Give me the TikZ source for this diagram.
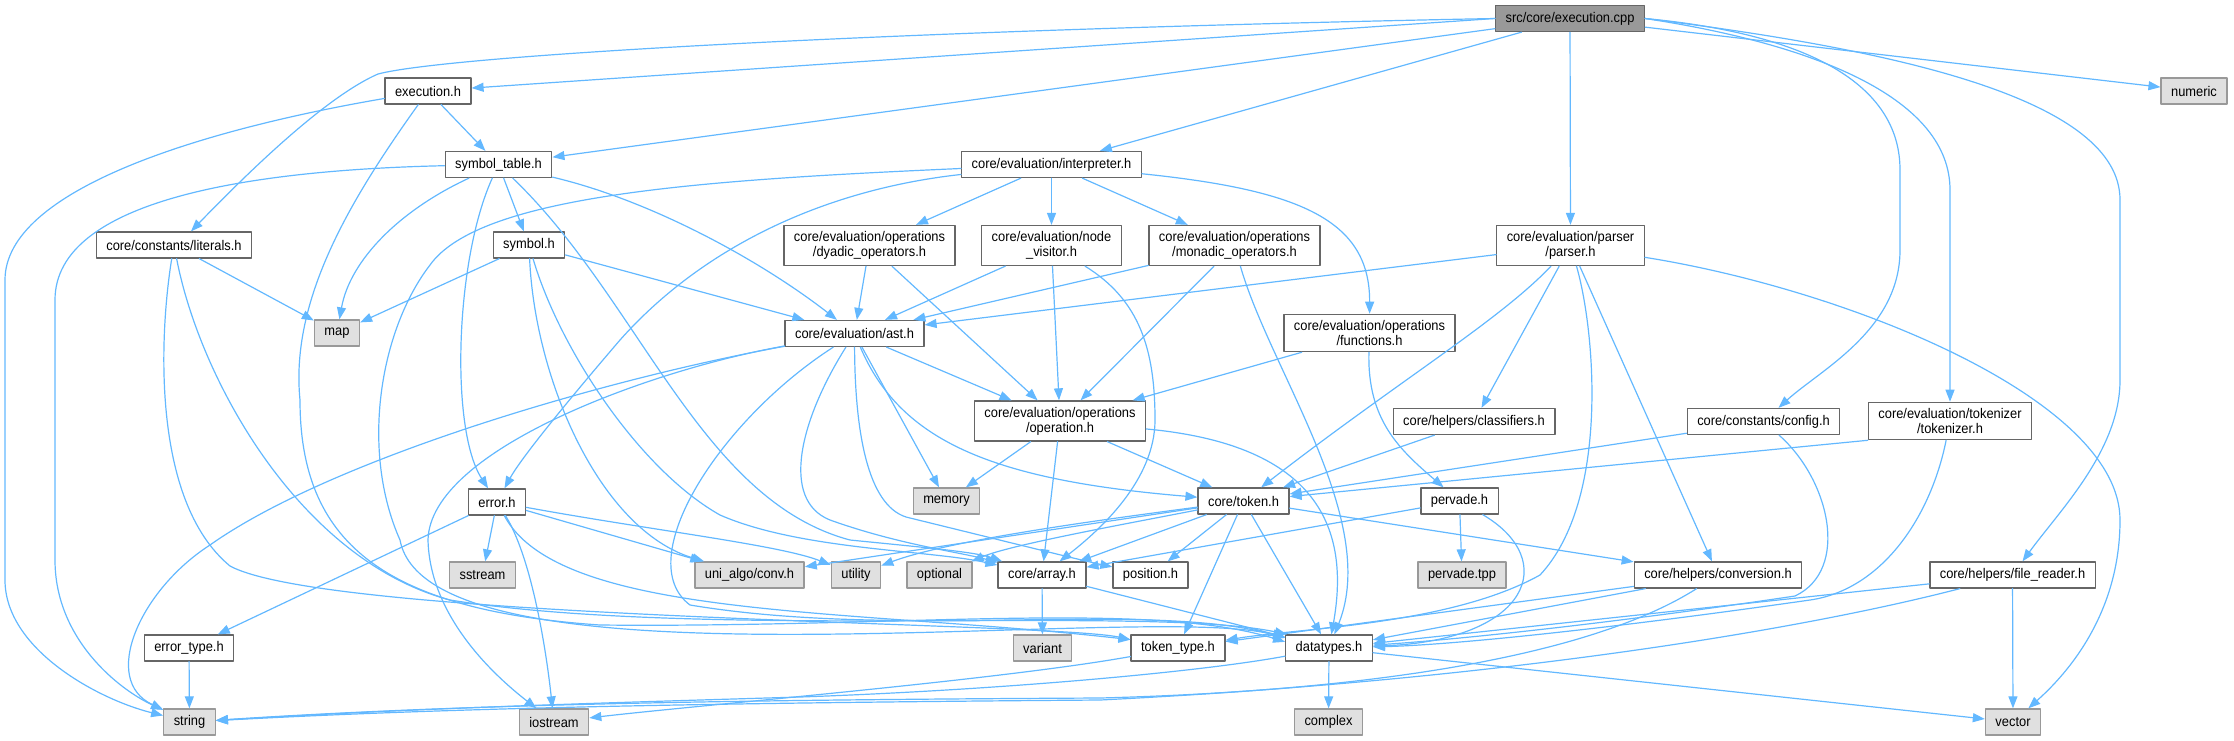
\documentclass[tikz,border=0pt]{standalone}
\usepackage{fontspec}
\setmainfont{Liberation Sans}[FakeStretch=0.92]
\usepackage{xcolor}
\usepackage{tikz}
\usetikzlibrary{arrows.meta}

\begin{document}
\begin{tikzpicture}[
    >=Latex,
    line cap=round,
    line join=round,
    font=\fontsize{14}{15}\selectfont,
    x=1pt,
    y=-1pt
]

% =========================================================
% Colors
% =========================================================
\definecolor{edgeblue}{RGB}{99,184,255}
\definecolor{boxline}{RGB}{102,102,102}
\definecolor{sysline}{RGB}{153,153,153}
\definecolor{sysfill}{RGB}{224,224,224}
\definecolor{mainfill}{RGB}{153,153,153}

% =========================================================
% Styles
% =========================================================
\tikzset{
    hdr/.style={draw=boxline,fill=white,line width=1.3pt,minimum height=26pt,
        inner xsep=10pt,inner ysep=6pt,align=center},
    sys/.style={hdr,draw=sysline,fill=sysfill},
    mainhdr/.style={hdr,fill=mainfill},
    inc/.style={edgeblue,line width=1.2pt,-{Triangle[length=12pt,width=9pt]}}
}

\useasboundingbox (0,0) rectangle (2234,740);

% =========================================================
% Files, rank by rank
% =========================================================
\node[mainhdr] (ecpp) at (1570,18.5) {src/core/execution.cpp};

\node[hdr] (exech) at (428,91) {execution.h};
\node[sys] (numeric) at (2194,91) {numeric};

\node[hdr] (symtab) at (498.5,164.5) {symbol\_table.h};
\node[hdr] (interp) at (1051.5,164.5) {core/evaluation/interpreter.h};

\node[hdr] (literals) at (174,245) {core/constants/literals.h};
\node[hdr] (symbol) at (529,245) {symbol.h};
\node[hdr] (dyadic) at (869.5,245.5) {core/evaluation/operations\\/dyadic\_operators.h};
\node[hdr] (nodevis) at (1051.5,245.5) {core/evaluation/node\\\_visitor.h};
\node[hdr] (monadic) at (1234.5,245.5) {core/evaluation/operations\\/monadic\_operators.h};
\node[hdr] (parser) at (1570.5,245.5) {core/evaluation/parser\\/parser.h};

\node[sys] (map) at (337,333) {map};
\node[hdr] (ast) at (854.5,333.5) {core/evaluation/ast.h};
\node[hdr] (functions) at (1369.5,333) {core/evaluation/operations\\/functions.h};

\node[hdr] (operation) at (1060,421) {core/evaluation/operations\\/operation.h};
\node[hdr] (classif) at (1474,421.5) {core/helpers/classifiers.h};
\node[hdr] (config) at (1763.5,421.5) {core/constants/config.h};
\node[hdr] (tokenizer) at (1950,421) {core/evaluation/tokenizer\\/tokenizer.h};

\node[hdr] (errorh) at (497,502) {error.h};
\node[sys] (memory) at (946.5,501) {memory};
\node[hdr] (token) at (1243.5,501) {core/token.h};
\node[hdr] (pervade) at (1459.5,501) {pervade.h};

\node[sys] (sstream) at (482.5,575) {sstream};
\node[sys] (unialgo) at (749.5,575) {uni\_algo/conv.h};
\node[sys] (utility) at (856,575) {utility};
\node[sys] (optional) at (939.5,575) {optional};
\node[hdr] (array) at (1042,575) {core/array.h};
\node[hdr] (position) at (1150.5,575) {position.h};
\node[sys] (pervtpp) at (1462,575) {pervade.tpp};
\node[hdr] (conversion) at (1718,575) {core/helpers/conversion.h};
\node[hdr] (filereader) at (2012.5,575) {core/helpers/file\_reader.h};

\node[hdr] (errtype) at (189,648) {error\_type.h};
\node[sys] (variant) at (1042.5,648) {variant};
\node[hdr] (toktype) at (1178,648) {token\_type.h};
\node[hdr] (datatypes) at (1329,648) {datatypes.h};

\node[sys] (string) at (189.5,722) {string};
\node[sys] (iostream) at (554,722) {iostream};
\node[sys] (complex) at (1328.5,722) {complex};
\node[sys] (vector) at (2013,722) {vector};

% =========================================================
% Includes of src/core/execution.cpp
% =========================================================
\draw[inc] (ecpp.west) -- (exech);
\draw[inc] (ecpp.west) .. controls (900,30) and (450,55) .. (378,74)
    .. controls (330,95) and (260,160) .. ([xshift=17pt]literals.north);
\draw[inc] (ecpp) -- (symtab);
\draw[inc] (ecpp) -- (interp);
\draw[inc] (ecpp) -- (parser);
\draw[inc] (ecpp) -- (numeric);
\draw[inc] (ecpp.east) .. controls (1820,35) and (1900,90) .. (1900,170)
    -- (1900,250) .. controls (1900,330) and (1820,370) .. (config);
\draw[inc] (ecpp.east) .. controls (1820,45) and (1950,100) .. (1950,190)
    -- (tokenizer);
\draw[inc] (ecpp.east) .. controls (1900,50) and (2120,100) .. (2120,200)
    -- (2120,380) .. controls (2120,450) and (2060,510) .. (filereader);

% =========================================================
% Upper headers
% =========================================================
% execution.h
\draw[inc] (exech) -- (symtab);
\draw[inc] (exech) .. controls (200,130) and (5,190) .. (5,280)
    -- (5,580) .. controls (5,650) and (100,700) .. (string);
\draw[inc] (exech) .. controls (350,200) and (290,300) .. (300,400)
    .. controls (300,540) and (380,610) .. (600,625)
    .. controls (900,628) and (1150,600) .. (datatypes.172);

% symbol_table.h
\draw[inc] (symtab) .. controls (250,170) and (55,200) .. (55,300)
    -- (55,560) .. controls (55,640) and (120,690) .. (string);
\draw[inc] (symtab) .. controls (400,210) and (350,260) .. (map);
\draw[inc] (symtab) .. controls (455,260) and (450,430) .. (errorh);
\draw[inc] (symtab) -- (symbol);
\draw[inc] (symtab) .. controls (650,200) and (760,260) .. (ast);
\draw[inc] (symtab) .. controls (640,300) and (700,500) .. (850,540)
    .. controls (930,548) and (975,552) .. (array);

% core/constants/literals.h
\draw[inc] (literals) -- (map);
\draw[inc] (literals) .. controls (160,330) and (150,500) .. (230,566)
    .. controls (330,620) and (1050,622) .. (toktype.170);
\draw[inc] (literals) .. controls (200,380) and (300,560) .. (450,600)
    .. controls (700,640) and (1150,605) .. (datatypes.162);

% symbol.h
\draw[inc] (symbol) -- (map);
\draw[inc] (symbol) -- (ast);
\draw[inc] (symbol) .. controls (535,380) and (600,530) .. (unialgo);
\draw[inc] (symbol) .. controls (560,350) and (640,470) .. (720,515)
    .. controls (800,550) and (930,550) .. (array);

% core/evaluation/interpreter.h
\draw[inc] (interp) -- (dyadic);
\draw[inc] (interp) -- (nodevis);
\draw[inc] (interp) -- (monadic);
\draw[inc] (interp) .. controls (1300,190) and (1370,220) .. (functions);
\draw[inc] (interp) .. controls (820,190) and (700,250) .. (620,340)
    .. controls (560,410) and (520,460) .. (errorh);
\draw[inc] (interp) .. controls (700,180) and (480,195) .. (430,265)
    .. controls (380,330) and (360,450) .. (400,540)
    .. controls (430,700) and (1150,600) .. (datatypes.167);

% operator headers
\draw[inc] (dyadic) -- (ast);
\draw[inc] (dyadic) -- (operation);
\draw[inc] (nodevis) -- (ast);
\draw[inc] (nodevis) -- (operation);
\draw[inc] (nodevis) .. controls (1140,300) and (1155,350) .. (1155,420)
    .. controls (1155,480) and (1100,530) .. (array);
\draw[inc] (monadic) -- (ast);
\draw[inc] (monadic) -- (operation);
\draw[inc] (monadic) .. controls (1270,370) and (1380,520) .. (datatypes);
\draw[inc] (functions) -- (operation);
\draw[inc] (functions) .. controls (1367,420) and (1400,450) .. (pervade);

% core/evaluation/parser/parser.h
\draw[inc] (parser) -- (ast);
\draw[inc] (parser) .. controls (1500,320) and (1400,380) .. (token);
\draw[inc] (parser) -- (classif);
\draw[inc] (parser) -- (conversion);
\draw[inc] (parser) .. controls (1595,330) and (1610,500) .. (1540,575)
    .. controls (1450,625) and (1300,628) .. (toktype);
\draw[inc] (parser) .. controls (1850,290) and (2120,400) .. (2120,520)
    .. controls (2120,620) and (2060,680) .. (vector);

% =========================================================
% Middle headers
% =========================================================
% core/evaluation/ast.h
\draw[inc] (ast) .. controls (600,380) and (330,460) .. (210,545)
    .. controls (140,590) and (100,680) .. (string);
\draw[inc] (ast) .. controls (650,370) and (430,450) .. (428,540)
    .. controls (430,620) and (500,680) .. (iostream);
\draw[inc] (ast) .. controls (720,420) and (630,560) .. (690,605)
    .. controls (900,640) and (1150,600) .. (datatypes.167);
\draw[inc] (ast) .. controls (800,420) and (780,500) .. (830,520)
    .. controls (900,545) and (960,552) .. (array);
\draw[inc] (ast) .. controls (855,440) and (870,510) .. (910,518)
    .. controls (1000,540) and (1080,560) .. (position);
\draw[inc] (ast) -- (memory);
\draw[inc] (ast) .. controls (900,440) and (990,480) .. (token);
\draw[inc] (ast) -- (operation);

% core/evaluation/operations/operation.h
\draw[inc] (operation) -- (memory);
\draw[inc] (operation) -- (array);
\draw[inc] (operation) -- (token);
\draw[inc] (operation) .. controls (1320,445) and (1350,530) .. (datatypes);

% helpers and constants into core/token.h
\draw[inc] (classif) -- (token);
\draw[inc] (config) -- (token);
\draw[inc] (tokenizer.south west) -- (token);
\draw[inc] (config) .. controls (1830,480) and (1850,570) .. (1795,596)
    .. controls (1600,625) and (1450,640) .. (datatypes);
\draw[inc] (tokenizer) .. controls (1930,520) and (1880,590) .. (1810,600)
    .. controls (1600,630) and (1450,645) .. (datatypes);

% core/token.h
\draw[inc] (token) -- (unialgo);
\draw[inc] (token) .. controls (1100,520) and (950,540) .. (utility);
\draw[inc] (token) .. controls (1120,525) and (1010,545) .. (optional);
\draw[inc] (token) -- (array);
\draw[inc] (token) -- (position);
\draw[inc] (token) -- (toktype);
\draw[inc] (token) -- (datatypes);
\draw[inc] (token) -- (conversion);

% pervade.h
\draw[inc] (pervade) -- (pervtpp);
\draw[inc] (pervade) -- (array);
\draw[inc] (pervade) .. controls (1560,560) and (1530,640) .. (datatypes);

% error.h
\draw[inc] (errorh) -- (errtype);
\draw[inc] (errorh) -- (sstream);
\draw[inc] (errorh) .. controls (530,555) and (545,640) .. (iostream);
\draw[inc] (errorh) -- (unialgo);
\draw[inc] (errorh) .. controls (650,530) and (780,545) .. (utility);
\draw[inc] (errorh) .. controls (560,620) and (850,608) .. (toktype.170);

% =========================================================
% Lower headers
% =========================================================
\draw[inc] (errtype) -- (string);
\draw[inc] (array) -- (variant);
\draw[inc] (array) -- (datatypes);
\draw[inc] (conversion) -- (datatypes);
\draw[inc] (conversion) -- (toktype);
\draw[inc] (conversion) .. controls (1600,650) and (1400,690) .. (1100,698)
    .. controls (700,700) and (450,705) .. (string);
\draw[inc] (filereader) -- (datatypes);
\draw[inc] (filereader) .. controls (1800,630) and (1500,680) .. (1100,700)
    .. controls (700,703) and (450,708) .. (string);
\draw[inc] (filereader) -- (vector);
\draw[inc] (toktype) .. controls (1000,680) and (700,705) .. (iostream);
\draw[inc] (datatypes) .. controls (1200,672) and (1000,690) .. (800,697)
    .. controls (600,703) and (420,708) .. (string);
\draw[inc] (datatypes) -- (complex);
\draw[inc] (datatypes) -- (vector);

\end{tikzpicture}
\end{document}
